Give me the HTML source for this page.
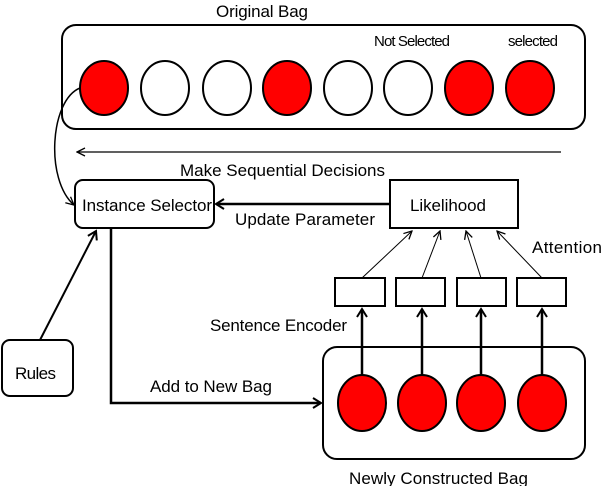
<!DOCTYPE html>
<html><head><style>body{margin:0;background:#fff}svg{display:block}text{font-family:"Liberation Sans",sans-serif;font-size:17px;fill:#000}</style></head>
<body>
<svg width="602" height="486" viewBox="0 0 602 486" xmlns="http://www.w3.org/2000/svg">
<defs>
<marker id="open" markerWidth="10" markerHeight="10" refX="9" refY="5" orient="auto" markerUnits="userSpaceOnUse"><path d="M1,1 L9,5 L1,9" fill="none" stroke="#000" stroke-width="1.3"/></marker>
<marker id="openb" markerWidth="12" markerHeight="12" refX="10" refY="6" orient="auto" markerUnits="userSpaceOnUse"><path d="M2,1 L10,6 L2,11" fill="none" stroke="#000" stroke-width="2"/></marker>
</defs>
<text x="216" y="17" textLength="92">Original Bag</text>
<rect x="62" y="25" width="523" height="104" rx="14" fill="none" stroke="#000" stroke-width="2"/>
<text x="374" y="46" style="font-size:15px" textLength="76">Not Selected</text>
<text x="508" y="46" style="font-size:15px" textLength="50">selected</text>
<g stroke="#000" stroke-width="2">
<ellipse cx="104" cy="88" rx="24" ry="27" fill="#f00"/>
<ellipse cx="165" cy="88" rx="24" ry="27" fill="#fff"/>
<ellipse cx="227" cy="88" rx="24" ry="27" fill="#fff"/>
<ellipse cx="287" cy="88" rx="24" ry="27" fill="#f00"/>
<ellipse cx="348" cy="88" rx="24" ry="27" fill="#fff"/>
<ellipse cx="408" cy="88" rx="24" ry="27" fill="#fff"/>
<ellipse cx="469" cy="88" rx="24" ry="27" fill="#f00"/>
<ellipse cx="530" cy="88" rx="24" ry="27" fill="#f00"/>
</g>
<line x1="561" y1="152" x2="77" y2="152" stroke="#000" stroke-width="1.2" marker-end="url(#open)"/>
<text x="180" y="176" textLength="205">Make Sequential Decisions</text>
<path d="M80,88 C50,100 45,180 74,205" fill="none" stroke="#000" stroke-width="1.5" marker-end="url(#open)"/>
<rect x="75" y="180" width="139" height="48" rx="8" fill="#fff" stroke="#000" stroke-width="2"/>
<text x="82" y="211" textLength="130">Instance Selector</text>
<rect x="390" y="180" width="128" height="48" fill="#fff" stroke="#000" stroke-width="2"/>
<text x="410" y="211" textLength="76">Likelihood</text>
<line x1="390" y1="204" x2="216" y2="204" stroke="#000" stroke-width="2.5" marker-end="url(#openb)"/>
<text x="235" y="225" textLength="140">Update Parameter</text>
<text x="532" y="253" textLength="70">Attention</text>
<g stroke="#000" stroke-width="1" fill="none">
<line x1="362" y1="278" x2="412" y2="231" marker-end="url(#open)"/>
<line x1="422" y1="278" x2="440" y2="231" marker-end="url(#open)"/>
<line x1="481" y1="278" x2="466" y2="231" marker-end="url(#open)"/>
<line x1="542" y1="278" x2="497" y2="231" marker-end="url(#open)"/>
</g>
<g fill="#fff" stroke="#000" stroke-width="2">
<rect x="335" y="278" width="50" height="28"/>
<rect x="396" y="278" width="49" height="28"/>
<rect x="457" y="278" width="49" height="28"/>
<rect x="517" y="278" width="49" height="28"/>
</g>
<text x="210" y="331" textLength="137">Sentence Encoder</text>
<rect x="323" y="347" width="262" height="112" rx="14" fill="none" stroke="#000" stroke-width="2"/>
<g stroke="#000" stroke-width="2.5">
<line x1="362" y1="375" x2="362" y2="309" marker-end="url(#openb)"/>
<line x1="422" y1="375" x2="422" y2="309" marker-end="url(#openb)"/>
<line x1="481" y1="375" x2="481" y2="309" marker-end="url(#openb)"/>
<line x1="542" y1="375" x2="542" y2="309" marker-end="url(#openb)"/>
</g>
<g stroke="#000" stroke-width="2" fill="#f00">
<ellipse cx="362" cy="403" rx="24" ry="28"/>
<ellipse cx="422" cy="403" rx="24" ry="28"/>
<ellipse cx="481" cy="403" rx="24" ry="28"/>
<ellipse cx="542" cy="403" rx="24" ry="28"/>
</g>
<text x="349" y="484" textLength="179">Newly Constructed Bag</text>
<rect x="2" y="340" width="71" height="56" rx="8" fill="#fff" stroke="#000" stroke-width="2"/>
<text x="15" y="379" textLength="41">Rules</text>
<line x1="40" y1="340" x2="96" y2="231" stroke="#000" stroke-width="2" marker-end="url(#openb)"/>
<polyline points="111,228 111,403 321,403" fill="none" stroke="#000" stroke-width="2.5" marker-end="url(#openb)"/>
<text x="150" y="392" textLength="122">Add to New Bag</text>
</svg>
</body></html>
